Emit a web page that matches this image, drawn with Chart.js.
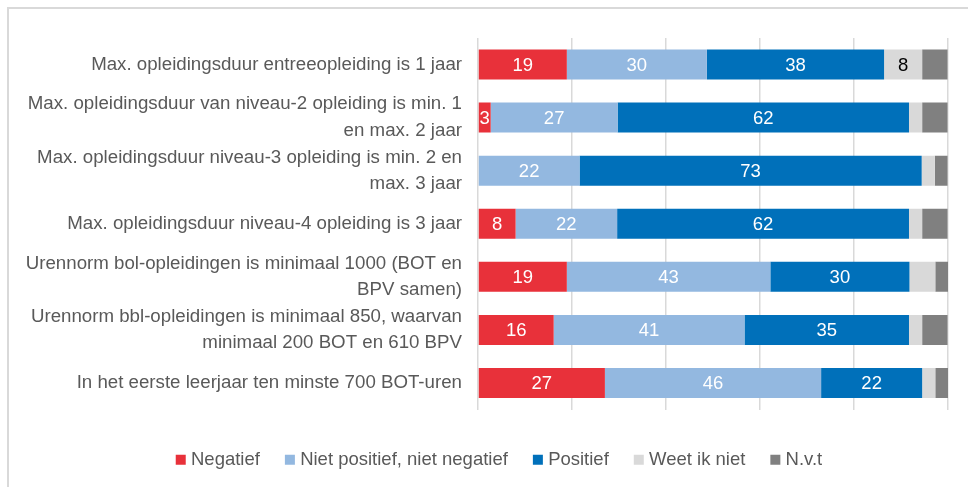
<!DOCTYPE html>
<html>
<head>
<meta charset="utf-8">
<script src="https://cdn.jsdelivr.net/npm/chart.js@4"></script>
<style>
  html, body { margin: 0; padding: 0; background: #fff; overflow: hidden; }
  #frame { position: absolute; left: 7px; top: 7px; width: 2000px; height: 2000px; border: 2px solid #d9d9d9; box-sizing: border-box; }
  #chart { position: absolute; left: 0; top: 0; }
</style>
</head>
<body>
<div id="frame"></div>
<canvas id="chart" width="968" height="487"></canvas>
<script>
// categorieen (stellingen)
const categories = [
    'Max. opleidingsduur entreeopleiding is 1 jaar',
    ['Max. opleidingsduur van niveau-2 opleiding is min. 1', 'en max. 2 jaar'],
    ['Max. opleidingsduur niveau-3 opleiding is min. 2 en', 'max. 3 jaar'],
    'Max. opleidingsduur niveau-4 opleiding is 3 jaar',
    ['Urennorm bol-opleidingen is minimaal 1000 (BOT en', 'BPV samen)'],
    ['Urennorm bbl-opleidingen is minimaal 850, waarvan', 'minimaal 200 BOT en 610 BPV'],
    'In het eerste leerjaar ten minste 700 BOT-uren'
];

// percentages per antwoord
const negatief   = [18.9, 2.7, 0, 8.0, 18.9, 16.1, 27.0];
const neutraal   = [29.8, 27.0, 21.6, 21.6, 43.3, 40.6, 46.0];
const positief   = [37.7, 62.0, 72.8, 62.1, 29.6, 35.0, 21.5];
const weetIkNiet = [8.1, 2.8, 2.8, 2.8, 5.5, 2.8, 2.8];
const nvt        = [5.4, 5.4, 2.7, 5.4, 2.7, 5.4, 2.7];

const seriesNames = ['Negatief', 'Niet positief, niet negatief', 'Positief', 'Weet ik niet', 'N.v.t'];
const seriesColors = ['#E8313A', '#93B8E0', '#0070BA', '#D9D9D9', '#808080'];
const labelColors = ['#fff', '#fff', '#fff', '#000', '#fff'];

const FONT = 'Liberation Sans, Arial, sans-serif';

// waarden in de balken
const barLabels = {
    id: 'barLabels',
    afterDatasetsDraw(chart) {
        const ctx = chart.ctx;
        ctx.save();
        ctx.font = '18.5px ' + FONT;
        ctx.textAlign = 'center';
        ctx.textBaseline = 'middle';
        chart.data.datasets.forEach((ds, i) => {
            const meta = chart.getDatasetMeta(i);
            meta.data.forEach((bar, j) => {
                const v = ds.data[j];
                if (!v) return;
                if (i >= 3 && v < 7) return;
                const p = bar.getProps(['x', 'y', 'base'], true);
                ctx.fillStyle = labelColors[i];
                ctx.fillText(Math.round(v), (p.x + p.base) / 2, p.y + 1);
            });
        });
        ctx.restore();
    }
};

// legenda iets naar rechts, zoals in het origineel
const legendShift = {
    id: 'legendShift',
    afterLayout(chart) {
        chart.legend.left += 27;
        chart.legend.right += 27;
    }
};

const allData = [negatief, neutraal, positief, weetIkNiet, nvt];

new Chart(document.getElementById('chart'), {
    type: 'bar',
    data: {
        labels: categories,
        datasets: allData.map((d, i) => ({
            label: seriesNames[i],
            data: d,
            backgroundColor: seriesColors[i],
            borderWidth: 0,
            barPercentage: 0.565,
            categoryPercentage: 1
        }))
    },
    options: {
        indexAxis: 'y',
        responsive: false,
        animation: false,
        layout: { padding: { top: 38, bottom: 8, right: 20, left: 0 } },
        scales: {
            x: {
                stacked: true,
                min: 0,
                max: 100,
                ticks: { display: false, stepSize: 20 },
                grid: { color: '#d9d9d9', lineWidth: 1.5, drawTicks: false },
                border: { display: false },
                afterFit: (scale) => { scale.height = 12; }
            },
            y: {
                stacked: true,
                grid: { display: false, drawTicks: false },
                border: { display: false },
                ticks: {
                    autoSkip: false,
                    color: '#595959',
                    padding: 16,
                    font: { family: FONT, size: 18.7, lineHeight: 1.42 }
                },
                afterFit: (scale) => { scale.width = 478; }
            }
        },
        plugins: {
            legend: {
                position: 'bottom',
                labels: {
                    usePointStyle: true,
                    pointStyle: 'rect',
                    boxWidth: 2,
                    boxHeight: 10,
                    padding: 29,
                    color: '#595959',
                    font: { family: FONT, size: 18.5 }
                }
            },
            tooltip: { enabled: false }
        }
    },
    plugins: [barLabels, legendShift]
});
</script>
</body>
</html>
